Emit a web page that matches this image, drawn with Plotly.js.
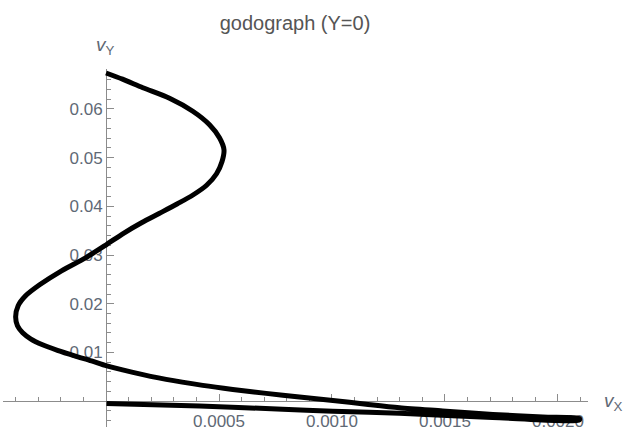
<!DOCTYPE html>
<html>
<head>
<meta charset="utf-8">
<script src="https://cdn.plot.ly/plotly-3.0.1.min.js"></script>
<style>html,body{margin:0;padding:0;background:#fff;}#chart{width:624px;height:431px;}</style>
</head>
<body>
<div id="chart"></div>
<script>
// Hodograph (Y=0): velocity components
var vx = [0.0000, 0.0000730, 0.000163, 0.000281, 0.000384, 0.000458, 0.000502, 0.000522, 0.000513, 0.000489,
          0.000445, 0.000383, 0.000316, 0.000237, 0.000157, 0.0000774, 0.0000035, -0.0000907, -0.000197, -0.000294,
          -0.000356, -0.000389, -0.000400, -0.000392, -0.000369, -0.000334, -0.000281, -0.000215, -0.000139, -0.0000642,
          0.0000035, 0.000119, 0.000266, 0.000428, 0.000561, 0.000709, 0.000856, 0.001004, 0.001151, 0.001299,
          0.001490, 0.001712, 0.001933, 0.002095,
          0.002095, 0.001710, 0.001299, 0.001004, 0.000782, 0.000414, 0.0000022];
var vy = [0.06738, 0.06611, 0.06436, 0.06220, 0.05953, 0.05676, 0.05409, 0.05162, 0.04916, 0.04669,
          0.04433, 0.04228, 0.04053, 0.03858, 0.03663, 0.03447, 0.03221, 0.02944, 0.02677, 0.02389,
          0.02163, 0.01958, 0.01732, 0.01547, 0.01403, 0.01280, 0.01157, 0.01044, 0.00931, 0.00828,
          0.00725, 0.00592, 0.00448, 0.00325, 0.00242, 0.00160, 0.00084, 0.00016, -0.00062, -0.00134,
          -0.00199, -0.00273, -0.00323, -0.00353,
          -0.00384, -0.00333, -0.00247, -0.00205, -0.00164, -0.00101, -0.00045];

var xTickVals = [0.0005, 0.0010, 0.0015, 0.0020];
var xTickText = ["0.0005", "0.0010", "0.0015", "0.0020"];
var yTickVals = [0.01, 0.02, 0.03, 0.04, 0.05, 0.06];
var yTickText = ["0.01", "0.02", "0.03", "0.04", "0.05", "0.06"];

var xRange = [-0.000456, 0.002133];
var yRange = [-0.0053, 0.0682];

var xMinor = [], yMinor = [];
for (var i = -4; i <= 21; i++) { if (i % 5 !== 0) xMinor.push(i * 0.0001); }
for (var j = -2; j <= 34; j++) { if (j % 5 !== 0) yMinor.push(j * 0.002); }

var axisColor = '#8c8c8c';
var labelColor = '#5f6975';
var font = 'Liberation Sans, Arial, sans-serif';

var trace = {
  x: vx, y: vy, type: 'scatter', mode: 'lines',
  line: {color: '#000', width: 5, shape: 'spline', smoothing: 0.8},
  hoverinfo: 'skip'
};

var layout = {
  width: 624, height: 431,
  margin: {l: 3, r: 36, t: 69, b: 4, pad: 0},
  paper_bgcolor: '#fff', plot_bgcolor: '#fff',
  showlegend: false,
  title: {
    text: 'godograph (Y=0)',
    font: {family: font, size: 20, color: '#555'},
    x: 295 / 624, xanchor: 'center', xref: 'container',
    y: 1 - 23 / 431, yanchor: 'middle', yref: 'container'
  },
  xaxis: {
    range: xRange, anchor: 'free', position: 0.0721,
    showgrid: false, zeroline: false,
    showline: true, linecolor: axisColor, linewidth: 1,
    tickmode: 'array', tickvals: xTickVals, ticktext: xTickText,
    ticks: 'inside', ticklen: 7, tickwidth: 1, tickcolor: axisColor,
    ticklabelstandoff: 4,
    minor: {tickmode: 'array', tickvals: xMinor, ticks: 'inside', ticklen: 4, tickwidth: 1, tickcolor: axisColor, showgrid: false},
    tickfont: {family: font, size: 17, color: labelColor},
    layer: 'below traces', fixedrange: true
  },
  yaxis: {
    range: yRange, anchor: 'free', position: 0.1761,
    showgrid: false, zeroline: false,
    showline: true, linecolor: axisColor, linewidth: 1,
    tickmode: 'array', tickvals: yTickVals, ticktext: yTickText,
    ticks: 'inside', ticklen: 7, tickwidth: 1, tickcolor: axisColor,
    minor: {tickmode: 'array', tickvals: yMinor, ticks: 'inside', ticklen: 4, tickwidth: 1, tickcolor: axisColor, showgrid: false},
    tickfont: {family: font, size: 17, color: labelColor},
    layer: 'below traces', fixedrange: true
  },
  annotations: [
    {text: '<i>v</i><sub>Y</sub>', xref: 'paper', yref: 'paper', x: 0.176, y: 1, yshift: 23,
     xanchor: 'center', yanchor: 'middle', showarrow: false,
     font: {family: font, size: 19, color: labelColor}},
    {text: '<i>v</i><sub>X</sub>', xref: 'paper', yref: 'paper', x: (613 - 3) / 585, y: (427 - 402) / 358,
     xanchor: 'center', yanchor: 'middle', showarrow: false,
     font: {family: font, size: 19, color: labelColor}}
  ]
};

Plotly.newPlot('chart', [trace], layout, {staticPlot: true, displayModeBar: false});
</script>
</body>
</html>
